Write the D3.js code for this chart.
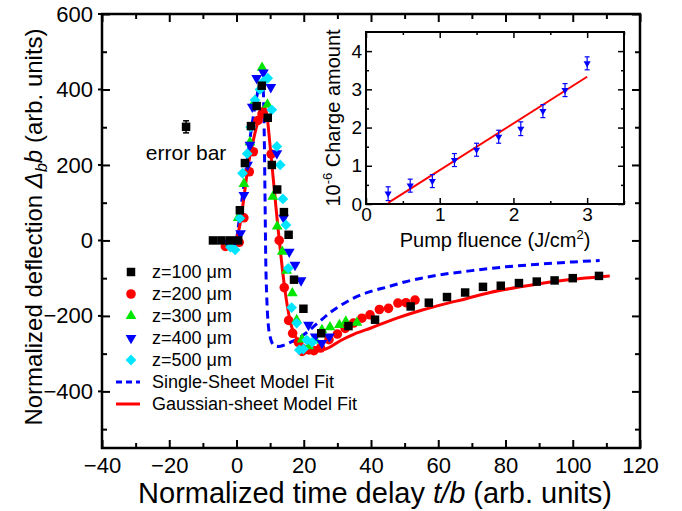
<!DOCTYPE html>
<html>
<head>
<meta charset="utf-8">
<script src="https://cdn.jsdelivr.net/npm/d3@7"></script>
<style>
  body { margin: 0; background: #fff; }
  svg text { font-family: "Liberation Sans", Arial, sans-serif; fill: #000; }
</style>
</head>
<body>
<div id="chart"></div>
<script>
// Main plot: normalized deflection vs normalized time delay, pairs of [t/b, value]
const z100 = [[-7, 0], [-4.5, 0], [-2, 0], [0.5, 0], [1, 80], [2.5, 205], [4.3, 303], [6, 356], [7.5, 410],
  [9.3, 325], [10.5, 200], [12.1, 135], [14.1, 75], [15.5, 15], [17.1, -104], [19.9, -181], [25.2, -246],
  [33.3, -227], [41.2, -210], [51.8, -175], [57.2, -165], [62.6, -150], [68, -138], [73.3, -123],
  [78.6, -120], [84, -113], [89.3, -109], [94.6, -106], [100, -100], [107.8, -94]];
const z200 = [[-3.3, -16], [0.8, -5], [2.2, 60], [3.8, 182], [5, 235], [6.4, 318], [7.6, 335], [10.3, 229],
  [12.7, 0], [14.2, -125], [15.5, -212], [16.7, -246], [18.4, -270], [19.5, -294], [21.5, -290], [23, -292],
  [25, -285], [27.5, -263], [30, -248], [32.3, -233], [34.8, -219], [37.3, -206], [39.7, -197], [42.5, -183],
  [45.2, -180], [48, -166], [50.4, -165], [53.1, -158]];
const z300 = [[-2, -5], [0.5, 60], [2.2, 150], [4, 260], [5.5, 370], [7.6, 458], [9.2, 360], [10.8, 116],
  [12.1, 37], [13.6, -30], [14.9, -80], [16.6, -140], [17.9, -211], [19.5, -262], [21.5, -280], [23.5, -265],
  [25.4, -237], [27.8, -230], [30.6, -224], [32.5, -215], [35.8, -218]];
const z400 = [[-2.5, -5], [-0.5, -2], [1.2, 19], [2.2, 120], [3.3, 200], [4, 253], [4.7, 354], [6, 430],
  [8, 445], [10.2, 406], [12, 231], [14, 60], [15.7, -30], [17.4, -65], [19.2, -106], [21.4, -224],
  [23.4, -255], [25.4, -272], [27.6, -255]];
const z500 = [[-1.8, -18], [-0.4, -25], [1, 59], [1.8, 178], [3.2, 230], [4.2, 300], [5.5, 372], [7, 400],
  [8, 421], [9.3, 430], [10.5, 346], [12, 249], [13, 200], [13.8, 110], [14.7, 41], [15.4, -74],
  [16.4, -178], [17.9, -219], [18.7, -290], [19.9, -288], [20.9, -264], [22.5, -270]];
const singleSheetFit = [[0, 0], [1.5, 100], [3, 200], [4.5, 300], [6, 380], [7, 415], [7.6, 420], [8, 390],
  [8.3, 250], [8.5, 100], [8.7, -50], [9, -150], [9.5, -228], [10.2, -262], [11, -276], [12.5, -281],
  [14, -278], [16, -270], [18, -262], [20, -250], [24, -220], [28, -190], [31, -172], [35, -152],
  [40, -135], [45, -123], [50, -110], [55, -100], [60, -92], [70, -80], [80, -70], [90, -63], [100, -57], [108, -53]];
const gaussianSheetFit = [[-0.5, -15], [1, 40], [2, 100], [3.5, 200], [5, 265], [6.5, 320], [7.5, 348],
  [8.3, 352], [9, 335], [10, 250], [11.5, 110], [12.4, 28], [13.2, -40], [14.4, -131], [15.9, -211],
  [17, -245], [18.9, -270], [21, -285], [24, -292], [27.5, -284], [31, -265], [35, -248], [40, -232],
  [47.7, -206], [55, -185], [62, -168], [68, -155], [75.4, -138], [85, -122], [95, -108], [111, -94]];
const errorBarPoint = [-15, 301, 16];   // t, value, half error

const seriesNames = ["z=100 \u03bcm", "z=200 \u03bcm", "z=300 \u03bcm", "z=400 \u03bcm", "z=500 \u03bcm"];
const fitNames = ["Single-Sheet Model Fit", "Gaussian-sheet Model Fit"];
const xTicks = [-40, -20, 0, 20, 40, 60, 80, 100, 120];
const yTicks = [-400, -200, 0, 200, 400, 600];

// Inset: charge amount vs pump fluence
const fluence = [0.3, 0.6, 0.9, 1.2, 1.5, 1.8, 2.1, 2.4, 2.7, 3.0];
const charge = [0.27, 0.48, 0.6, 1.15, 1.42, 1.76, 1.97, 2.43, 2.98, 3.68];
const chargeErr = [0.18, 0.17, 0.17, 0.17, 0.17, 0.17, 0.18, 0.17, 0.17, 0.17];
const fitFluence = [0.3, 3.0];
const fitCharge = [0.03, 3.33];
const insetXTicks = [0, 1, 2, 3];
const insetYTicks = [0, 1, 2, 3, 4];

const W = 682, H = 511;
const svg = d3.select("#chart").append("svg").attr("width", W).attr("height", H);

const x = d3.scaleLinear().domain([-40, 120]).range([102, 640]);
const y = d3.scaleLinear().domain([-550, 600]).range([448, 14]);

const red = "#ff0000", blue = "#0000ff", green = "#00e600", cyan = "#00e5ff";
const intFmt = d3.format("d");

// axes helper: major ticks inward with labels, minor ticks inward, on all four sides
function frameAxes(g, xs, ys, xMaj, xMin, yMaj, yMin, fs, majLen, minLen, pad) {
  const [x0, x1] = xs.range(), [y0, y1] = ys.range();
  g.append("g").attr("transform", `translate(0,${y0})`)
    .call(d3.axisBottom(xs).tickValues(xMaj).tickSizeInner(-majLen).tickSizeOuter(0).tickPadding(pad).tickFormat(intFmt))
    .call(a => a.selectAll("text").attr("font-size", fs));
  g.append("g").attr("transform", `translate(0,${y0})`)
    .call(d3.axisBottom(xs).tickValues(xMin).tickSizeInner(-minLen).tickSizeOuter(0).tickFormat(""));
  g.append("g").attr("transform", `translate(0,${y1})`)
    .call(d3.axisTop(xs).tickValues(xMaj).tickSizeInner(-majLen).tickSizeOuter(0).tickFormat(""));
  g.append("g").attr("transform", `translate(0,${y1})`)
    .call(d3.axisTop(xs).tickValues(xMin).tickSizeInner(-minLen).tickSizeOuter(0).tickFormat(""));
  g.append("g").attr("transform", `translate(${x0},0)`)
    .call(d3.axisLeft(ys).tickValues(yMaj).tickSizeInner(-majLen).tickSizeOuter(0).tickPadding(pad).tickFormat(intFmt))
    .call(a => a.selectAll("text").attr("font-size", fs));
  g.append("g").attr("transform", `translate(${x0},0)`)
    .call(d3.axisLeft(ys).tickValues(yMin).tickSizeInner(-minLen).tickSizeOuter(0).tickFormat(""));
  g.append("g").attr("transform", `translate(${x1},0)`)
    .call(d3.axisRight(ys).tickValues(yMaj).tickSizeInner(-majLen).tickSizeOuter(0).tickFormat(""));
  g.append("g").attr("transform", `translate(${x1},0)`)
    .call(d3.axisRight(ys).tickValues(yMin).tickSizeInner(-minLen).tickSizeOuter(0).tickFormat(""));
  g.selectAll(".domain").remove();
  g.selectAll(".tick line").attr("stroke", "#000").attr("stroke-width", 2);
  g.selectAll(".tick text").attr("font-family", "Liberation Sans, Arial, sans-serif").attr("fill", "#000");
  return g.append("rect").attr("x", x0).attr("y", y1).attr("width", x1 - x0).attr("height", y0 - y1)
    .attr("fill", "none").attr("stroke", "#000").attr("stroke-width", 2.5);
}

const mainAxes = svg.append("g");
frameAxes(mainAxes, x, y, xTicks, d3.range(-30, 120, 20), yTicks, d3.range(-500, 600, 200), 22, 8, 5, 9);
// short outward stubs on the left major ticks
mainAxes.append("g").selectAll("line").data(yTicks).join("line")
  .attr("x1", x(-40) - 4).attr("x2", x(-40)).attr("y1", d => y(d)).attr("y2", d => y(d))
  .attr("stroke", "#000").attr("stroke-width", 2);

// fit curves
const line = d3.line().x(d => x(d[0])).y(d => y(d[1])).curve(d3.curveMonotoneX);
svg.append("path").datum(singleSheetFit).attr("d", line)
  .attr("fill", "none").attr("stroke", blue).attr("stroke-width", 3).attr("stroke-dasharray", "8,5");
svg.append("path").datum(gaussianSheetFit).attr("d", line)
  .attr("fill", "none").attr("stroke", red).attr("stroke-width", 3);

// markers
const sym = {
  square: d3.symbol(d3.symbolSquare, 72)(),
  circle: d3.symbol(d3.symbolCircle, 72)(),
  tri: d3.symbol(d3.symbolTriangle, 50)(),
  diamond: d3.symbol(d3.symbolSquare, 58)()
};
function drawMarkers(data, path, color, rot) {
  svg.append("g").selectAll("path").data(data).join("path")
    .attr("d", path)
    .attr("transform", d => `translate(${x(d[0])},${y(d[1])}) rotate(${rot})`)
    .attr("fill", color);
}
drawMarkers(z200, sym.circle, red, 0);
drawMarkers(z300, sym.tri, green, 0);
drawMarkers(z400, sym.tri, blue, 180);
drawMarkers(z500, sym.diamond, cyan, 45);
drawMarkers(z100, sym.square, "#000", 0);

// error bar sample
const [et, ev, ee] = errorBarPoint;
const eb = svg.append("g").attr("stroke", "#000").attr("stroke-width", 1.5);
eb.append("line").attr("x1", x(et)).attr("x2", x(et)).attr("y1", y(ev - ee)).attr("y2", y(ev + ee));
eb.append("line").attr("x1", x(et) - 3).attr("x2", x(et) + 3).attr("y1", y(ev - ee)).attr("y2", y(ev - ee));
eb.append("line").attr("x1", x(et) - 3).attr("x2", x(et) + 3).attr("y1", y(ev + ee)).attr("y2", y(ev + ee));
svg.append("path").attr("d", sym.square).attr("transform", `translate(${x(et)},${y(ev)})`).attr("fill", "#000");
svg.append("text").attr("x", x(et)).attr("y", y(ev) + 33).attr("text-anchor", "middle")
  .attr("font-size", 21).text("error bar");

// legend
const legend = svg.append("g").attr("transform", "translate(131,272)");
const legendShapes = [[sym.square, "#000", 0], [sym.circle, red, 0], [sym.tri, green, 0], [sym.tri, blue, 180], [sym.diamond, cyan, 45]];
const rowH = 22;
seriesNames.forEach((name, i) => {
  const [p, c, r] = legendShapes[i];
  legend.append("path").attr("d", p).attr("fill", c).attr("transform", `translate(0,${i * rowH}) rotate(${r})`);
  legend.append("text").attr("x", 21).attr("y", i * rowH + 6).attr("font-size", 18).text(name);
});
fitNames.forEach((name, i) => {
  const yy = (5 + i) * rowH;
  legend.append("line").attr("x1", -15).attr("x2", 9).attr("y1", yy).attr("y2", yy)
    .attr("stroke", i === 0 ? blue : red).attr("stroke-width", 3)
    .attr("stroke-dasharray", i === 0 ? "6,4" : null);
  legend.append("text").attr("x", 21).attr("y", yy + 6).attr("font-size", 18).text(name);
});

// axis titles
svg.append("text").attr("x", 375).attr("y", 503).attr("text-anchor", "middle").attr("font-size", 29)
  .html('Normalized time delay <tspan font-style="italic">t/b</tspan> (arb. units)');
svg.append("text").attr("transform", "translate(42,227) rotate(-90)").attr("text-anchor", "middle").attr("font-size", 24)
  .html('Normalized deflection <tspan font-style="italic">\u0394</tspan><tspan font-style="italic" font-size="16" dy="5">b</tspan><tspan font-style="italic" dy="-5">b</tspan> (arb. units)');

// inset
const xi = d3.scaleLinear().domain([0, 3.5]).range([366, 624]);
const yi = d3.scaleLinear().domain([0, 4.5]).range([204, 32]);
const inset = svg.append("g");
inset.append("rect").attr("x", 366).attr("y", 32).attr("width", 258).attr("height", 172).attr("fill", "#fff");
const insetFrame = frameAxes(inset, xi, yi, insetXTicks, [0.5, 1.5, 2.5, 3.5], insetYTicks, [0.5, 1.5, 2.5, 3.5], 19, 6, 3, 4);
inset.selectAll(".tick line").attr("stroke-width", 1.5);
insetFrame.attr("stroke-width", 2);

inset.append("line").attr("x1", xi(fitFluence[0])).attr("y1", yi(fitCharge[0]))
  .attr("x2", xi(fitFluence[1])).attr("y2", yi(fitCharge[1])).attr("stroke", red).attr("stroke-width", 2);
const pts = fluence.map((f, i) => ({f, c: charge[i], e: chargeErr[i]}));
const eg = inset.append("g").attr("stroke", blue).attr("stroke-width", 1.2);
pts.forEach(d => {
  eg.append("line").attr("x1", xi(d.f)).attr("x2", xi(d.f)).attr("y1", yi(d.c - d.e)).attr("y2", yi(d.c + d.e));
  [d.c - d.e, d.c + d.e].forEach(v => eg.append("line").attr("x1", xi(d.f) - 2.5).attr("x2", xi(d.f) + 2.5)
    .attr("y1", yi(v)).attr("y2", yi(v)));
});
inset.append("g").selectAll("path").data(pts).join("path")
  .attr("d", d3.symbol(d3.symbolTriangle, 22)())
  .attr("transform", d => `translate(${xi(d.f)},${yi(d.c)}) rotate(180)`).attr("fill", blue);

inset.append("text").attr("x", 495).attr("y", 247).attr("text-anchor", "middle").attr("font-size", 20)
  .html('Pump fluence (J/cm<tspan font-size="13" dy="-8">2</tspan><tspan dy="8">)</tspan>');
inset.append("text").attr("transform", "translate(340,118) rotate(-90)").attr("text-anchor", "middle").attr("font-size", 20)
  .html('10<tspan font-size="13" dy="-8">-6</tspan><tspan dy="8"> Charge amount</tspan>');
</script>
</body>
</html>
